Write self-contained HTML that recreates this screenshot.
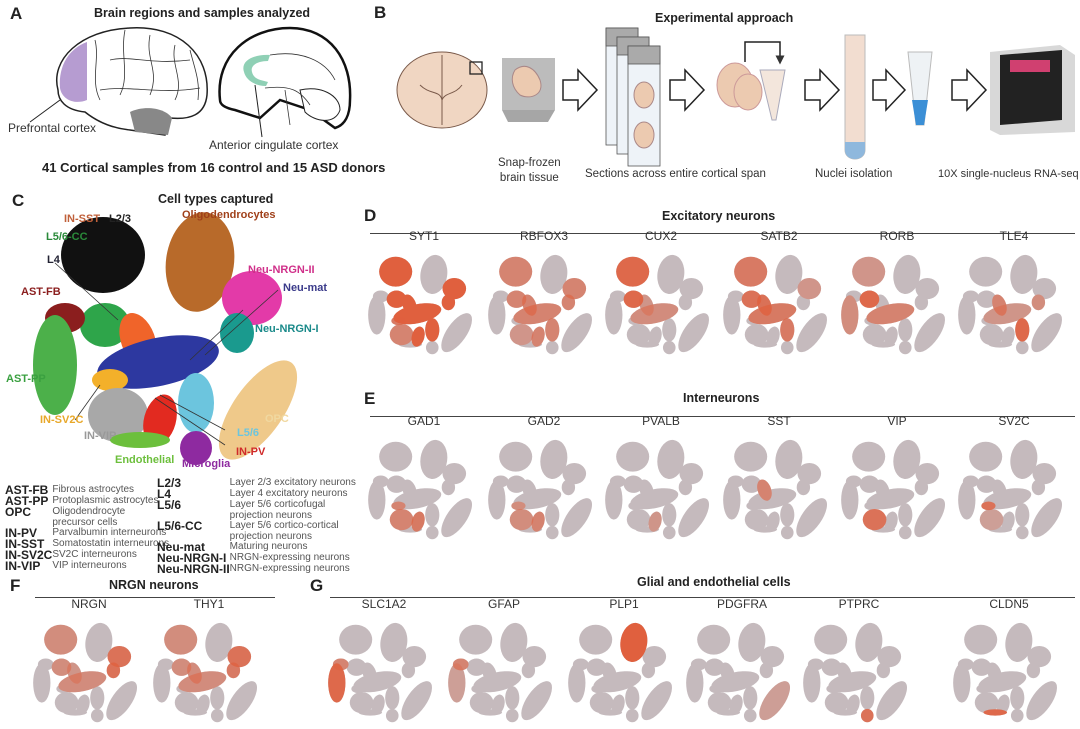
<!DOCTYPE html>
<html><head><meta charset="utf-8"><style>
body{margin:0;background:#fff;}
#w{position:relative;width:1080px;height:729px;overflow:hidden;font-family:"Liberation Sans",Arial,sans-serif;color:#222;}
.t{position:absolute;white-space:nowrap;}
.L{font-weight:bold;font-size:17px;}
.h{font-weight:bold;font-size:12.5px;}
.g{font-size:12px;color:#333;}
.ln{position:absolute;height:1px;background:#444;}
table.lg{position:absolute;border-collapse:collapse;font-size:10px;line-height:10.5px;color:#555;}
table.lg td{padding:0;vertical-align:top;}
table.lg td.b{font-weight:bold;color:#222;font-size:12px;white-space:nowrap;line-height:11px;}
</style></head><body><div id="w">
<svg width="1080" height="729" style="position:absolute;left:0;top:0">
<defs>
<ellipse id="k1" cx="103" cy="255" rx="42" ry="38"/>
<ellipse id="k2" cx="200" cy="262" rx="34" ry="50" transform="rotate(8 200 262)"/>
<ellipse id="k3" cx="252" cy="298" rx="30" ry="27"/>
<ellipse id="k4" cx="237" cy="333" rx="17" ry="20"/>
<ellipse id="k5" cx="105" cy="325" rx="25" ry="22"/>
<ellipse id="k6" cx="138" cy="340" rx="17" ry="28" transform="rotate(-20 138 340)"/>
<ellipse id="k7" cx="158" cy="362" rx="62" ry="24" transform="rotate(-12 158 362)"/>
<ellipse id="k8" cx="65" cy="318" rx="20" ry="15"/>
<ellipse id="k9" cx="55" cy="365" rx="22" ry="50"/>
<ellipse id="k10" cx="110" cy="380" rx="18" ry="11"/>
<ellipse id="k11" cx="118" cy="415" rx="30" ry="27"/>
<ellipse id="k12" cx="258" cy="410" rx="25" ry="58" transform="rotate(35 258 410)"/>
<ellipse id="k13" cx="196" cy="403" rx="18" ry="30"/>
<ellipse id="k14" cx="160" cy="420" rx="16" ry="26" transform="rotate(15 160 420)"/>
<ellipse id="k15" cx="140" cy="440" rx="30" ry="8"/>
<ellipse id="k16" cx="196" cy="448" rx="16" ry="17"/>
<g id="all"><use href="#k1"/><use href="#k2"/><use href="#k3"/><use href="#k4"/><use href="#k5"/><use href="#k6"/><use href="#k7"/><use href="#k8"/><use href="#k9"/><use href="#k10"/><use href="#k11"/><use href="#k12"/><use href="#k13"/><use href="#k14"/><use href="#k15"/><use href="#k16"/></g>
<marker id="ar" markerWidth="6" markerHeight="6" refX="3" refY="3" orient="auto"><path d="M0,0L6,3L0,6z" fill="#333"/></marker>
</defs>

<path d="M58,90 C50,60 80,30 130,28 C180,25 210,55 207,95 C205,115 190,120 170,118 L165,135 L130,130 C110,128 95,120 85,112 C65,110 58,100 58,90Z" fill="#fff" stroke="#222" stroke-width="1.5"/>
<path d="M60,88 C58,65 70,48 87,42 L87,100 C75,105 62,100 60,88Z" fill="#a98bc9" opacity="0.85"/>
<path d="M130,112 C145,105 165,108 172,118 L168,135 L135,132Z" fill="#888"/>
<g stroke="#333" fill="none" stroke-width="0.8">
<path d="M95,40 C100,60 90,80 100,100"/><path d="M125,30 C120,55 130,75 120,95"/><path d="M150,35 C145,60 160,70 150,95"/><path d="M175,45 C170,65 185,80 175,100"/><path d="M100,90 C130,85 160,95 200,88"/><path d="M110,60 C130,55 150,65 190,60"/><path d="M190,50 C195,70 200,80 198,100"/>
</g>
<line x1="60" y1="100" x2="30" y2="122" stroke="#222"/>
<path d="M220,100 C215,55 250,28 290,28 C330,28 352,60 350,100 C350,115 345,125 335,128 L310,110 L280,100 L260,118 L235,110 C225,108 220,105 220,100Z" fill="#fff" stroke="#111" stroke-width="2.5"/>
<path d="M244,72 C240,60 255,54 270,55 L268,61 C258,61 250,65 252,72 C254,80 262,80 268,82 L266,86 C255,86 246,80 244,72Z" fill="#8fd0b5"/>
<path d="M300,90 C320,85 340,95 340,110 C335,125 315,122 305,112Z" fill="#fff" stroke="#222"/>
<g stroke="#333" fill="none" stroke-width="0.8"><path d="M270,55 C300,50 325,60 335,80"/><path d="M265,88 C290,85 300,90 310,105"/><path d="M285,90 L290,125"/></g>
<line x1="255" y1="85" x2="262" y2="137" stroke="#222"/>

<ellipse cx="442" cy="90" rx="45" ry="38" fill="#f0d6c2" stroke="#7a5a4a"/>
<path d="M442,55 L442,125 M420,85 C430,95 440,90 442,100 M462,85 C455,95 445,92 442,100" stroke="#7a5a4a" fill="none"/>
<rect x="470" y="62" width="12" height="12" fill="none" stroke="#222" stroke-width="1.3"/>
<path d="M502,58 L555,58 L555,110 L548,122 L508,122 L502,110Z" fill="#a6a6a6"/>
<rect x="502" y="58" width="53" height="52" fill="#bcbcbc"/>
<path d="M515,70 C525,62 535,68 540,80 C545,95 530,100 520,95 C512,88 510,78 515,70Z" fill="#eccab0" stroke="#a88"/>
<g fill="#fff" stroke="#222" stroke-width="1.5">
<path d="M563,80 L578,80 L578,70 L597,90 L578,110 L578,100 L563,100Z"/>
<path d="M670,80 L685,80 L685,70 L704,90 L685,110 L685,100 L670,100Z"/>
<path d="M805,80 L820,80 L820,70 L839,90 L820,110 L820,100 L805,100Z"/>
<path d="M873,80 L886,80 L886,70 L905,90 L886,110 L886,100 L873,100Z"/>
<path d="M952,80 L967,80 L967,70 L986,90 L967,110 L967,100 L952,100Z"/>
</g>
<g stroke="#555" stroke-width="0.8">
<rect x="606" y="28" width="32" height="117" fill="#eef3f8"/><rect x="606" y="28" width="32" height="18" fill="#aaa"/>
<rect x="617" y="37" width="32" height="117" fill="#eef3f8"/><rect x="617" y="37" width="32" height="18" fill="#aaa"/>
<rect x="628" y="46" width="32" height="120" fill="#eef3f8"/><rect x="628" y="46" width="32" height="18" fill="#aaa"/>
</g>
<ellipse cx="644" cy="95" rx="10" ry="13" fill="#eccab0" stroke="#a88"/>
<ellipse cx="644" cy="135" rx="10" ry="13" fill="#eccab0" stroke="#a88"/>
<ellipse cx="735" cy="85" rx="18" ry="22" fill="#eccab0" stroke="#c99"/>
<ellipse cx="748" cy="92" rx="14" ry="18" fill="#eccab0" stroke="#c99"/>
<path d="M760,70 L785,70 L776,120 L772,120Z" fill="#f3e6dc" stroke="#aab"/>
<path d="M745,62 L745,42 L780,42 L780,60" fill="none" stroke="#222" stroke-width="1.5" marker-end="url(#ar)"/>
<path d="M845,35 L865,35 L865,150 C865,162 845,162 845,150Z" fill="#f2ddd0" stroke="#bbb"/>
<path d="M845,142 L865,142 L865,150 C865,162 845,162 845,150Z" fill="#8fb8dd"/>
<path d="M908,52 L932,52 L924,125 L916,125Z" fill="#eef2f5" stroke="#bbb"/>
<path d="M912,100 L928,100 L924,125 L916,125Z" fill="#3b8fd6"/>
<path d="M990,52 L1060,45 L1075,55 L1075,132 L1000,135 L990,130Z" fill="#d8d8d8"/>
<path d="M1000,55 L1062,50 L1062,120 L1000,125Z" fill="#222"/>
<rect x="1010" y="60" width="40" height="12" fill="#d04070"/>

<g>
<use href="#k1" fill="#111"/><use href="#k2" fill="#b86a2a"/><use href="#k3" fill="#e33aa8"/><use href="#k4" fill="#1a9a8e"/>
<use href="#k5" fill="#2ea54a"/><use href="#k6" fill="#f0642a"/><use href="#k7" fill="#2d38a0"/><use href="#k8" fill="#8b1e1e"/>
<use href="#k9" fill="#4cb04a"/><use href="#k10" fill="#f3b02a"/><use href="#k11" fill="#a8a8a8"/><use href="#k12" fill="#efc98a"/>
<use href="#k13" fill="#6cc5de"/><use href="#k14" fill="#e22a20"/><use href="#k15" fill="#6cbf3c"/><use href="#k16" fill="#8e2aa0"/>
</g>
<g stroke="#333" stroke-width="0.8">
<line x1="55" y1="263" x2="118" y2="320"/><line x1="243" y1="310" x2="190" y2="360"/><line x1="278" y1="290" x2="205" y2="355"/>
<line x1="160" y1="395" x2="225" y2="430"/><line x1="155" y1="398" x2="225" y2="445"/><line x1="100" y1="385" x2="75" y2="420"/>
</g>
</svg>

<div class="t L" style="left:10px;top:4px">A</div>
<div class="t h" style="left:94px;top:6px">Brain regions and samples analyzed</div>
<div class="t" style="left:8px;top:121px;font-size:12px;color:#333">Prefrontal cortex</div>
<div class="t" style="left:209px;top:138px;font-size:12px;color:#333">Anterior cingulate cortex</div>
<div class="t h" style="left:42px;top:160px;font-size:13px">41 Cortical samples from 16 control and 15 ASD donors</div>

<div class="t L" style="left:374px;top:3px">B</div>
<div class="t h" style="left:655px;top:11px">Experimental approach</div>
<div class="t g" style="left:498px;top:156px;text-align:center;line-height:15px;font-size:11.5px">Snap-frozen<br>brain tissue</div>
<div class="t g" style="left:585px;top:168px;font-size:11.5px">Sections across entire cortical span</div>
<div class="t g" style="left:815px;top:168px;font-size:11.5px">Nuclei isolation</div>
<div class="t g" style="left:938px;top:168px;font-size:11px">10X single-nucleus RNA-seq</div>

<div class="t L" style="left:12px;top:191px">C</div>
<div class="t h" style="left:158px;top:192px">Cell types captured</div>
<div class="t h" style="left:64px;top:213px;color:#c0603a;font-size:11px">IN-SST</div>
<div class="t h" style="left:109px;top:213px;font-size:11px">L2/3</div>
<div class="t h" style="left:182px;top:209px;color:#a0401a;font-size:11px">Oligodendrocytes</div>
<div class="t h" style="left:46px;top:231px;color:#2a8a3a;font-size:11px">L5/6-CC</div>
<div class="t h" style="left:47px;top:254px;font-size:11px;color:#223">L4</div>
<div class="t h" style="left:248px;top:264px;color:#d0308a;font-size:11px">Neu-NRGN-II</div>
<div class="t h" style="left:283px;top:282px;color:#3a3a8a;font-size:11px">Neu-mat</div>
<div class="t h" style="left:21px;top:286px;color:#8b1e1e;font-size:11px">AST-FB</div>
<div class="t h" style="left:255px;top:323px;color:#1a8a8a;font-size:11px">Neu-NRGN-I</div>
<div class="t h" style="left:6px;top:373px;color:#3aa040;font-size:11px">AST-PP</div>
<div class="t h" style="left:40px;top:414px;color:#e8a82a;font-size:11px">IN-SV2C</div>
<div class="t" style="left:84px;top:430px;color:#999;font-size:11px;font-weight:bold">IN-VIP</div>
<div class="t h" style="left:265px;top:413px;color:#f0d8a0;font-size:11px">OPC</div>
<div class="t h" style="left:237px;top:427px;color:#6cc5de;font-size:11px">L5/6</div>
<div class="t h" style="left:236px;top:446px;color:#d02a2a;font-size:11px">IN-PV</div>
<div class="t h" style="left:115px;top:454px;color:#6cbf3c;font-size:11px">Endothelial</div>
<div class="t h" style="left:182px;top:458px;color:#8e2aa0;font-size:11px">Microglia</div>

<table class="lg" style="left:5px;top:485px;width:152px">
<tr><td class="b" style="width:47px">AST-FB</td><td>Fibrous astrocytes</td></tr>
<tr><td class="b">AST-PP</td><td style="white-space:nowrap">Protoplasmic astrocytes</td></tr>
<tr><td class="b">OPC</td><td>Oligodendrocyte precursor cells</td></tr>
<tr><td class="b">IN-PV</td><td style="white-space:nowrap">Parvalbumin interneurons</td></tr>
<tr><td class="b">IN-SST</td><td style="white-space:nowrap">Somatostatin interneurons</td></tr>
<tr><td class="b">IN-SV2C</td><td>SV2C interneurons</td></tr>
<tr><td class="b">IN-VIP</td><td>VIP interneurons</td></tr>
</table>
<table class="lg" style="left:157px;top:478px;width:205px">
<tr><td class="b" style="width:66px">L2/3</td><td>Layer 2/3 excitatory neurons</td></tr>
<tr><td class="b">L4</td><td>Layer 4 excitatory neurons</td></tr>
<tr><td class="b">L5/6</td><td>Layer 5/6 corticofugal projection neurons</td></tr>
<tr><td class="b">L5/6-CC</td><td>Layer 5/6 cortico-cortical projection neurons</td></tr>
<tr><td class="b">Neu-mat</td><td>Maturing neurons</td></tr>
<tr><td class="b">Neu-NRGN-I</td><td style="white-space:nowrap">NRGN-expressing neurons</td></tr>
<tr><td class="b">Neu-NRGN-II</td><td style="white-space:nowrap">NRGN-expressing neurons</td></tr>
</table>

<div class="t L" style="left:364px;top:206px">D</div>
<div class="t h" style="left:662px;top:209px">Excitatory neurons</div>
<div class="ln" style="left:370px;top:233px;width:705px"></div>
<div class="t L" style="left:364px;top:389px">E</div>
<div class="t h" style="left:683px;top:391px">Interneurons</div>
<div class="ln" style="left:370px;top:416px;width:705px"></div>
<div class="t L" style="left:10px;top:576px">F</div>
<div class="t h" style="left:109px;top:578px">NRGN neurons</div>
<div class="ln" style="left:35px;top:597px;width:240px"></div>
<div class="t L" style="left:310px;top:576px">G</div>
<div class="t h" style="left:637px;top:575px">Glial and endothelial cells</div>
<div class="ln" style="left:330px;top:597px;width:745px"></div>

<svg id="minis" width="1080" height="729" style="position:absolute;left:0;top:0"></svg>
</div>
<script>
var R="#e0603e";
var P=[
[365,252,"SYT1",[[1,1],[5,1],[6,1],[7,1],[3,1],[4,1],[13,1],[14,1],[10,.7],[11,.6]]],
[485,252,"RBFOX3",[[1,.6],[5,.6],[6,.6],[7,.6],[3,.6],[4,.6],[13,.6],[14,.6],[11,.4]]],
[602,252,"CUX2",[[1,.9],[5,.9],[7,.5],[6,.4]]],
[720,252,"SATB2",[[1,.7],[5,.8],[6,.8],[7,.7],[13,.7],[3,.4]]],
[838,252,"RORB",[[5,.9],[7,.6],[1,.4],[9,.5]]],
[955,252,"TLE4",[[13,.9],[6,.6],[7,.4],[4,.5]]],
[365,437,"GAD1",[[14,.7],[11,.6],[10,.6]]],
[485,437,"GAD2",[[14,.6],[11,.5],[10,.5]]],
[602,437,"PVALB",[[14,.4]]],
[720,437,"SST",[[6,.6]]],
[838,437,"VIP",[[11,.8]]],
[955,437,"SV2C",[[10,.8],[11,.3]]],
[30,620,"NRGN",[[3,.8],[4,.8],[1,.5],[7,.5],[5,.5],[6,.4]]],
[150,620,"THY1",[[3,.8],[4,.7],[1,.5],[7,.5],[5,.5],[6,.5]]],
[325,620,"SLC1A2",[[9,.9],[8,.6]]],
[445,620,"GFAP",[[8,.6],[9,.3]]],
[565,620,"PLP1",[[2,1]]],
[683,620,"PDGFRA",[[12,.3]]],
[800,620,"PTPRC",[[16,.8]]],
[950,620,"CLDN5",[[15,.9]]]];
var s='';
var sc=118/300;
P.forEach(function(p){
 s+='<g transform="translate('+p[0]+','+p[1]+') scale('+sc+') translate(-25,-205)"><use href="#all" fill="#c5babd"/>';
 p[3].forEach(function(h){s+='<use href="#k'+h[0]+'" fill="'+R+'" opacity="'+h[1]+'"/>';});
 s+='</g>';
 s+='<text x="'+(p[0]+59)+'" y="'+(p[1]-12)+'" text-anchor="middle" font-family="Liberation Sans,Arial,sans-serif" font-size="12" fill="#333">'+p[2]+'</text>';
});
document.getElementById('minis').innerHTML=s;
</script>
</body></html>
